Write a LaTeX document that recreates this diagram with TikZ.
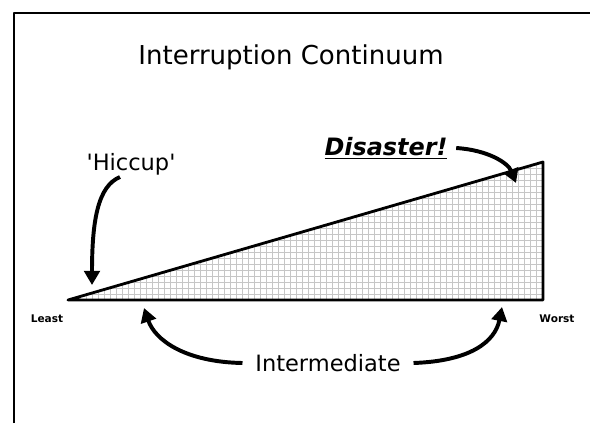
\documentclass[tikz,border=0pt]{standalone}
\usepackage{fontspec}
\setmainfont{DejaVu Sans}
\usetikzlibrary{arrows.meta}

\begin{document}
\begin{tikzpicture}[x=0.025cm,y=-0.025cm,line join=round,
  bigarrow/.style={line width=2.8pt,-{Triangle[length=10pt,width=11pt]}},
  edge/.style={line width=2pt},
  lbl/.style={inner sep=1pt,font=\fontsize{16}{19}\selectfont},
  endlbl/.style={inner sep=1pt,font=\bfseries\fontsize{7.5}{9}\selectfont}]
\useasboundingbox (0,0) rectangle (590,423);
\fill[white] (0,0) rectangle (590,423);
\draw[line width=1.5pt] (14,423) -- (14,13) -- (590,13);
\coordinate (least) at (68,300);
\coordinate (worst) at (543,300);
\coordinate (peak) at (543,162);
\begin{scope}
\clip (least) -- (worst) -- (peak) -- cycle;
\foreach \gx in {68,74,...,548} \draw[gray!45,line width=0.5pt] (\gx,150) -- (\gx,306);
\foreach \gy in {300,294,...,150} \draw[gray!45,line width=0.5pt] (60,\gy) -- (550,\gy);
\end{scope}
\draw[edge] (least) -- (worst) -- (peak) -- cycle;
\node[font=\fontsize{18.5}{22}\selectfont] (title) at (291,57) {Interruption Continuum};
\node[lbl] (hiccup) at (131,164) {\textquotesingle Hiccup\textquotesingle};
\node[inner sep=1pt,font=\bfseries\itshape\fontsize{17}{21}\selectfont] (disaster) at (386,148) {\underline{Disaster!}};
\node[lbl] (inter) at (328,363) {Intermediate};
\node[endlbl] (leastlbl) at (47,319) {Least};
\node[endlbl] (worstlbl) at (557,319) {Worst};
\coordinate (hiccuptip) at (92,285);
\coordinate (disastertip) at (516,183);
\coordinate (lefttip) at (144,308);
\coordinate (righttip) at (502,307);
\draw[bigarrow] (120,177) .. controls (98,186) and (92,220) .. (hiccuptip);
\draw[bigarrow] (disaster.east) ++(5pt,0) .. controls (488,150) and (508,163) .. (disastertip);
\draw[bigarrow] (inter.west) ++(-8pt,0) .. controls (185,362) and (155,340) .. (lefttip);
\draw[bigarrow] (inter.east) ++(8pt,0) .. controls (470,361) and (495,342) .. (righttip);
\end{tikzpicture}
\end{document}
